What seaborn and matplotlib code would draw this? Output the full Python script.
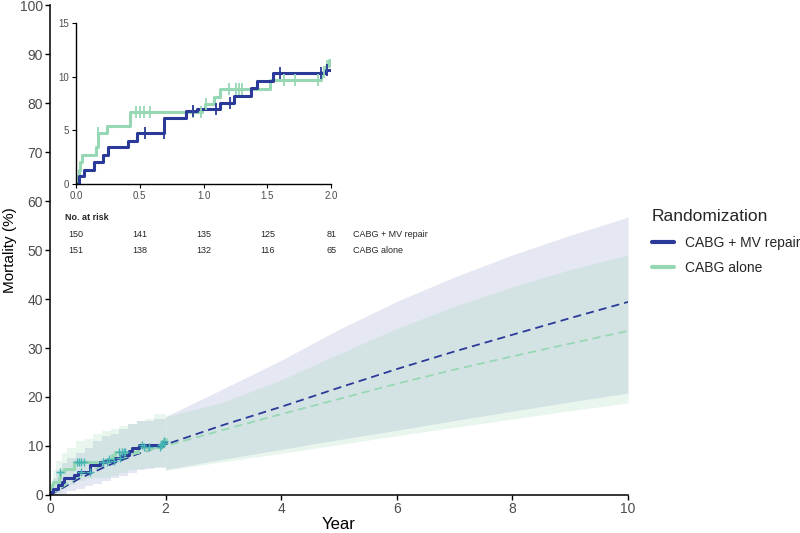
import matplotlib
matplotlib.use('Agg')
import matplotlib.pyplot as plt
import pandas as pd
import seaborn as sns
from matplotlib.lines import Line2D

# Kaplan-Meier cumulative mortality (%)
km_rep_t = [0, 0.02, 0.06, 0.14, 0.21, 0.25, 0.41, 0.48, 0.69, 0.86, 0.95, 1.13, 1.24, 1.37, 1.42, 1.54, 1.96, 2.0]
km_rep_y = [0, 0.7, 1.3, 2.0, 2.7, 3.4, 4.0, 4.7, 6.1, 6.8, 7.0, 7.5, 8.2, 8.9, 9.6, 10.3, 10.6, 10.6]
km_alo_t = [0, 0.005, 0.02, 0.03, 0.045, 0.16, 0.175, 0.245, 0.42, 0.99, 1.01, 1.08, 1.13, 1.52, 1.92, 1.96, 1.98, 2.0]
km_alo_y = [0, 0.7, 1.3, 2.0, 2.7, 3.4, 4.7, 5.4, 6.7, 7.0, 7.4, 8.1, 8.8, 9.7, 10.4, 11.0, 11.5, 11.5]

# censored observations
cens_rep_t = [0.54, 0.69, 0.92, 1.10, 1.21, 1.60, 1.92, 1.97]
cens_rep_y = [4.7, 4.7, 6.8, 7.0, 7.5, 10.3, 10.3, 10.6]
cens_alo_t = [0.17, 0.47, 0.50, 0.53, 0.58, 0.92, 0.98, 1.02, 1.20, 1.25, 1.28, 1.30, 1.63, 1.72, 1.90, 1.94, 1.97]
cens_alo_y = [4.7, 6.7, 6.7, 6.7, 6.7, 6.7, 6.7, 7.4, 8.8, 8.8, 8.8, 8.8, 9.7, 9.7, 9.7, 10.4, 11.0]

# KM confidence bands (step)
band_t = [0, 0.05, 0.1, 0.2, 0.3, 0.45, 0.6, 0.75, 0.9, 1.05, 1.2, 1.35, 1.5, 1.65, 1.8, 2.0]
band_rep_lo = [0, 0, 0, 0.3, 0.8, 1.3, 1.8, 2.3, 2.9, 3.4, 3.9, 4.4, 5.0, 5.3, 5.5, 5.5]
band_rep_hi = [1.5, 3.5, 5, 6.5, 7.5, 8.5, 9.5, 11, 12, 12.5, 13.5, 14.5, 15, 15, 15.5, 16]
band_alo_lo = [0, 0, 0.5, 1.2, 2.0, 2.8, 3.2, 3.4, 3.5, 3.8, 4.4, 5.0, 5.3, 5.5, 5.7, 6.0]
band_alo_hi = [2.5, 5, 7, 8.5, 9.5, 11, 11.5, 12.5, 13, 13.5, 14, 14.5, 15, 15.5, 16.5, 17]

# parametric extrapolation
par_t = [0, 0.5, 1, 1.5, 2, 3, 4, 5, 6, 7, 8, 9, 10]
par_rep = [0, 3.3, 6.0, 8.3, 10.3, 14.3, 18.0, 21.9, 25.7, 29.3, 32.7, 36.1, 39.4]
par_alo = [0, 3.8, 6.5, 8.5, 10.0, 13.3, 16.5, 19.6, 22.7, 25.6, 28.3, 30.9, 33.5]
pb_t = [2, 3, 4, 5, 6, 7, 8, 9, 10]
pb_rep_lo = [5.2, 7.3, 9.3, 11.3, 13.2, 15.2, 17.1, 19.0, 20.8]
pb_rep_hi = [16, 21.7, 27.5, 33.8, 39.5, 44.5, 49, 53, 56.7]
pb_alo_lo = [5.0, 6.8, 8.5, 10.3, 12.1, 13.8, 15.5, 17.2, 18.8]
pb_alo_hi = [16, 19, 23.5, 28.8, 34, 38.5, 42.5, 46, 49]

# number at risk
risk_t = [0, 0.5, 1.0, 1.5, 2.0]
risk_rep = [150, 141, 135, 125, 81]
risk_alo = [151, 138, 132, 116, 65]

groups = ['CABG + MV repair', 'CABG alone']
blue = '#2b3a98'
green = '#97d8b4'
teal = '#46b3b3'

sns.set_theme(style='ticks')
plt.rcParams['font.family'] = ['Liberation Sans', 'DejaVu Sans']

fig = plt.figure(figsize=(8, 5.33), dpi=100)
ax = fig.add_axes([0.0625, 0.0713, 0.7225, 0.9193])

# bands
ax.fill_between(band_t, band_rep_lo, band_rep_hi, step='post', color=blue, alpha=0.12, lw=0)
ax.fill_between(band_t, band_alo_lo, band_alo_hi, step='post', color=green, alpha=0.22, lw=0)
ax.fill_between(pb_t, pb_rep_lo, pb_rep_hi, color=blue, alpha=0.12, lw=0)
ax.fill_between(pb_t, pb_alo_lo, pb_alo_hi, color=green, alpha=0.22, lw=0)

par = pd.DataFrame({'t': par_t, 'rep': par_rep, 'alo': par_alo})
sns.lineplot(data=par, x='t', y='rep', ax=ax, color=blue, lw=1.3, linestyle=(0, (4.5, 2.8)))
sns.lineplot(data=par, x='t', y='alo', ax=ax, color=green, lw=1.3, linestyle=(0, (4.5, 2.8)))

km_rep = pd.DataFrame({'t': km_rep_t, 'y': km_rep_y})
km_alo = pd.DataFrame({'t': km_alo_t, 'y': km_alo_y})
sns.lineplot(data=km_alo, x='t', y='y', ax=ax, color=green, lw=2.2, drawstyle='steps-post', estimator=None)
sns.lineplot(data=km_rep, x='t', y='y', ax=ax, color=blue, lw=2.2, drawstyle='steps-post', estimator=None)
ax.plot(cens_rep_t, cens_rep_y, ls='none', marker='+', ms=6, mew=1.0, color=teal)
ax.plot(cens_alo_t, cens_alo_y, ls='none', marker='+', ms=6, mew=1.0, color=teal)

ax.set_xlim(0, 10)
ax.set_ylim(0, 100)
ax.set_xticks([0, 2, 4, 6, 8, 10])
ax.set_yticks(range(0, 101, 10))
ax.set_xlabel('Year', fontsize=12, color='black', labelpad=1)
ax.set_ylabel('Mortality (%)', fontsize=11, color='black', labelpad=2)
ax.tick_params(labelsize=10, labelcolor='#4d4d4d', length=3.5, width=1, color='black', pad=1.5)
for s in ['top', 'right']:
    ax.spines[s].set_visible(False)
for s in ['left', 'bottom']:
    ax.spines[s].set_color('black')
    ax.spines[s].set_linewidth(1.1)
ax.margins(0)

# inset
axi = fig.add_axes([0.095, 0.655, 0.319, 0.302])
sns.lineplot(data=km_alo, x='t', y='y', ax=axi, color=green, lw=2.2, drawstyle='steps-post', estimator=None)
sns.lineplot(data=km_rep, x='t', y='y', ax=axi, color=blue, lw=2.2, drawstyle='steps-post', estimator=None)
axi.plot(cens_alo_t, cens_alo_y, ls='none', marker='|', ms=8, mew=1.3, color=green)
axi.plot(cens_rep_t, cens_rep_y, ls='none', marker='|', ms=8, mew=1.3, color=blue)
axi.set_xlim(0, 2)
axi.set_ylim(0, 15)
axi.set_xticks([0, 0.5, 1.0, 1.5, 2.0])
axi.set_xticklabels(['0.0', '0.5', '1.0', '1.5', '2.0'])
axi.set_yticks([0, 5, 10, 15])
axi.set_xlabel('')
axi.set_ylabel('')
axi.tick_params(labelsize=7, labelcolor='#4d4d4d', length=3, width=0.8, color='black', pad=2)
axi.patch.set_alpha(0)
for s in ['top', 'right']:
    axi.spines[s].set_visible(False)
for s in ['left', 'bottom']:
    axi.spines[s].set_color('black')
    axi.spines[s].set_linewidth(1.0)

# number at risk table
tr = axi.get_xaxis_transform()
axi.text(-0.09, -0.21, 'No. at risk', transform=tr, fontsize=6.5, fontweight='bold', va='center', ha='left')
for x, a, b in zip(risk_t, risk_rep, risk_alo):
    axi.text(x, -0.317, str(a), transform=tr, fontsize=6.5, va='center', ha='center')
    axi.text(x, -0.416, str(b), transform=tr, fontsize=6.5, va='center', ha='center')
axi.text(2.17, -0.317, groups[0], transform=tr, fontsize=6.5, va='center', ha='left')
axi.text(2.17, -0.416, groups[1], transform=tr, fontsize=6.5, va='center', ha='left')

handles = [Line2D([], [], color=blue, lw=3), Line2D([], [], color=green, lw=3)]
leg = fig.legend(handles, groups, title='Randomization', loc='upper left',
                 bbox_to_anchor=(0.815, 0.607), frameon=False, fontsize=10,
                 title_fontsize=12.5, handlelength=1.6, handletextpad=0.8,
                 labelspacing=0.8, borderpad=0, borderaxespad=0)
leg._legend_box.align = 'left'

fig.savefig('out.png', dpi=100)
